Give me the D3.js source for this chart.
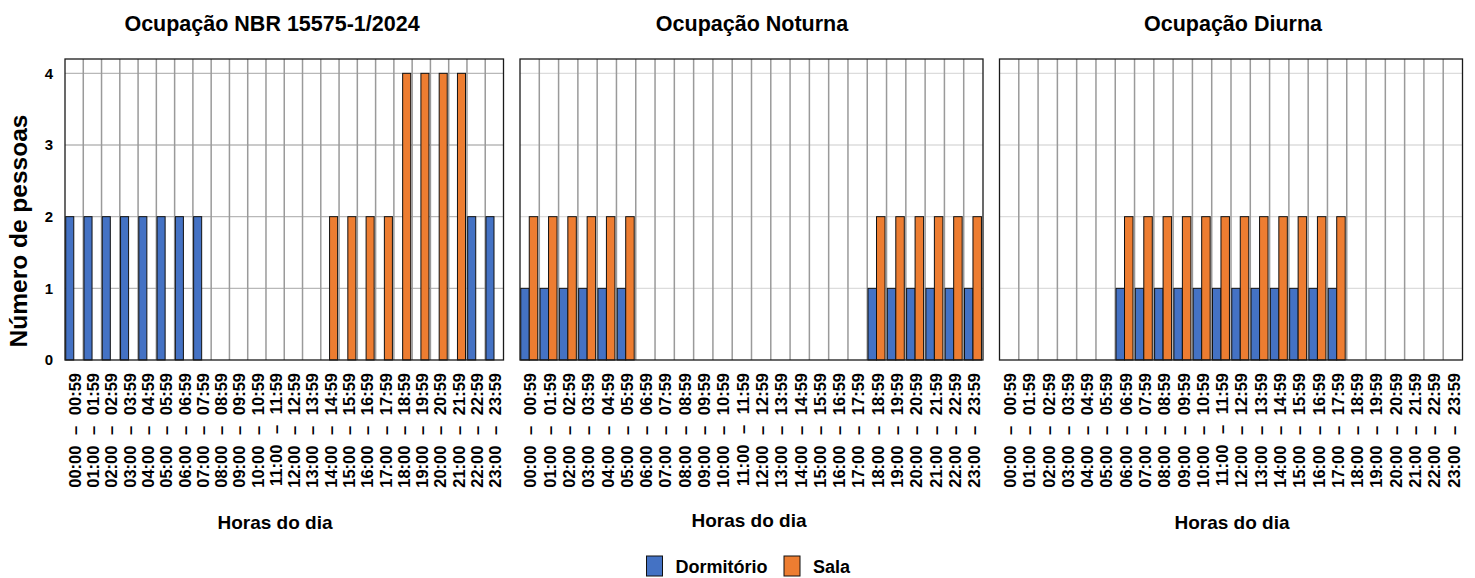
<!DOCTYPE html>
<html>
<head>
<meta charset="utf-8">
<script src="https://cdn.jsdelivr.net/npm/d3@7"></script>
<style>
  html, body { margin: 0; padding: 0; background: #fff; }
  svg { display: block; font-family: "Liberation Sans", Arial, sans-serif; font-weight: bold; }
</style>
</head>
<body>
<svg id="chart" width="1475" height="578"></svg>
<script>
// ---------- DATA ----------
const hourLabels = [
  "00:00 – 00:59","01:00 – 01:59","02:00 – 02:59","03:00 – 03:59",
  "04:00 – 04:59","05:00 – 05:59","06:00 – 06:59","07:00 – 07:59",
  "08:00 – 08:59","09:00 – 09:59","10:00 – 10:59","11:00 – 11:59",
  "12:00 – 12:59","13:00 – 13:59","14:00 – 14:59","15:00 – 15:59",
  "16:00 – 16:59","17:00 – 17:59","18:00 – 18:59","19:00 – 19:59",
  "20:00 – 20:59","21:00 – 21:59","22:00 – 22:59","23:00 – 23:59"
];
const seriesNames = ["Dormitório", "Sala"];
const panelTitles = ["Ocupação NBR 15575-1/2024", "Ocupação Noturna", "Ocupação Diurna"];
const yTicks = [0, 1, 2, 3, 4];

const dormNBR = [2,2,2,2,2,2,2,2,0,0,0,0,0,0,0,0,0,0,0,0,0,0,2,2];
const salaNBR = [0,0,0,0,0,0,0,0,0,0,0,0,0,0,2,2,2,2,4,4,4,4,0,0];
const dormNoturna = [1,1,1,1,1,1,0,0,0,0,0,0,0,0,0,0,0,0,1,1,1,1,1,1];
const salaNoturna = [2,2,2,2,2,2,0,0,0,0,0,0,0,0,0,0,0,0,2,2,2,2,2,2];
const dormDiurna = [0,0,0,0,0,0,1,1,1,1,1,1,1,1,1,1,1,1,0,0,0,0,0,0];
const salaDiurna = [0,0,0,0,0,0,2,2,2,2,2,2,2,2,2,2,2,2,0,0,0,0,0,0];

// ---------- LAYOUT / STYLE ----------
const colors = ["#4472C4", "#ED7D31"];
const plotTop = 59, plotBottom = 360;
const panels = [
  { title: panelTitles[0], series: [dormNBR, salaNBR], x0: 65, x1: 503.5, titleX: 272, axisTitleX: 275, axisTitleY: 529, hGrid: "#b8b8b8", yLabels: true },
  { title: panelTitles[1], series: [dormNoturna, salaNoturna], x0: 520, x1: 983, titleX: 752, axisTitleX: 749, axisTitleY: 527, hGrid: "#dcdcdc", yLabels: false },
  { title: panelTitles[2], series: [dormDiurna, salaDiurna], x0: 999.5, x1: 1462.5, titleX: 1233, axisTitleX: 1232, axisTitleY: 529, hGrid: "#dcdcdc", yLabels: false }
];

const svg = d3.select("#chart");
const y = d3.scaleLinear().domain([0, 4.2]).range([plotBottom, plotTop]);

panels.forEach((p) => {
  const g = svg.append("g");
  const x = d3.scaleBand().domain(hourLabels).range([p.x0, p.x1]).padding(0);
  const bw = x.bandwidth();
  const sub = d3.scaleLinear().domain([0, 1]).range([0, bw]);
  const barStart = [0.04, 0.48], barW = 0.44;

  // horizontal gridlines
  g.append("g").selectAll("line").data(yTicks.filter(d => d > 0)).join("line")
    .attr("x1", p.x0).attr("x2", p.x1)
    .attr("y1", d => y(d)).attr("y2", d => y(d))
    .attr("stroke", p.hGrid).attr("stroke-width", 1.3);

  // vertical gridlines (category boundaries)
  g.append("g").selectAll("line").data(hourLabels.slice(1)).join("line")
    .attr("x1", d => x(d)).attr("x2", d => x(d))
    .attr("y1", plotTop).attr("y2", plotBottom)
    .attr("stroke", "#9a9a9a").attr("stroke-width", 1.5);

  // bars
  p.series.forEach((vals, si) => {
    g.append("g").selectAll("rect").data(vals.map((v, i) => ({ v, h: hourLabels[i] }))).join("rect")
      .attr("x", d => x(d.h) + sub(barStart[si]))
      .attr("width", sub(barW))
      .attr("y", d => y(d.v))
      .attr("height", d => y(0) - y(d.v))
      .attr("fill", colors[si])
      .attr("stroke", "#111").attr("stroke-width", 1);
  });

  // plot border
  g.append("rect")
    .attr("x", p.x0).attr("y", plotTop)
    .attr("width", p.x1 - p.x0).attr("height", plotBottom - plotTop)
    .attr("fill", "none").attr("stroke", "#1a1a1a").attr("stroke-width", 1.3);

  // x tick labels
  g.append("g").selectAll("text").data(hourLabels).join("text")
    .attr("transform", d => `translate(${x(d) + bw / 2 + 1},373) rotate(-90)`)
    .attr("text-anchor", "end")
    .attr("dy", "0.35em")
    .attr("font-size", 16.5)
    .style("word-spacing", "6px")
    .attr("fill", "#000")
    .text(d => d);

  // y tick labels
  if (p.yLabels) {
    g.append("g").selectAll("text").data(yTicks).join("text")
      .attr("x", 53).attr("y", d => y(d))
      .attr("dy", "0.35em")
      .attr("text-anchor", "end")
      .attr("font-size", 15)
      .text(d => d);
  }

  // titles
  g.append("text").attr("x", p.titleX).attr("y", 31)
    .attr("text-anchor", "middle").attr("font-size", 21.5).text(p.title);
  g.append("text").attr("x", p.axisTitleX).attr("y", p.axisTitleY)
    .attr("text-anchor", "middle").attr("font-size", 19).text("Horas do dia");
});

// y axis title
svg.append("text")
  .attr("transform", "translate(27,231) rotate(-90)")
  .attr("text-anchor", "middle")
  .attr("font-size", 24.5)
  .text("Número de pessoas");

// legend
const legend = svg.append("g");
const legendX = [646.5, 784];
seriesNames.forEach((name, i) => {
  legend.append("rect").attr("x", legendX[i]).attr("y", 556)
    .attr("width", 16).attr("height", 20)
    .attr("fill", colors[i]).attr("stroke", "#111").attr("stroke-width", 1);
  legend.append("text").attr("x", legendX[i] + 29).attr("y", 573)
    .attr("font-size", 18).text(name);
});
</script>
</body>
</html>
